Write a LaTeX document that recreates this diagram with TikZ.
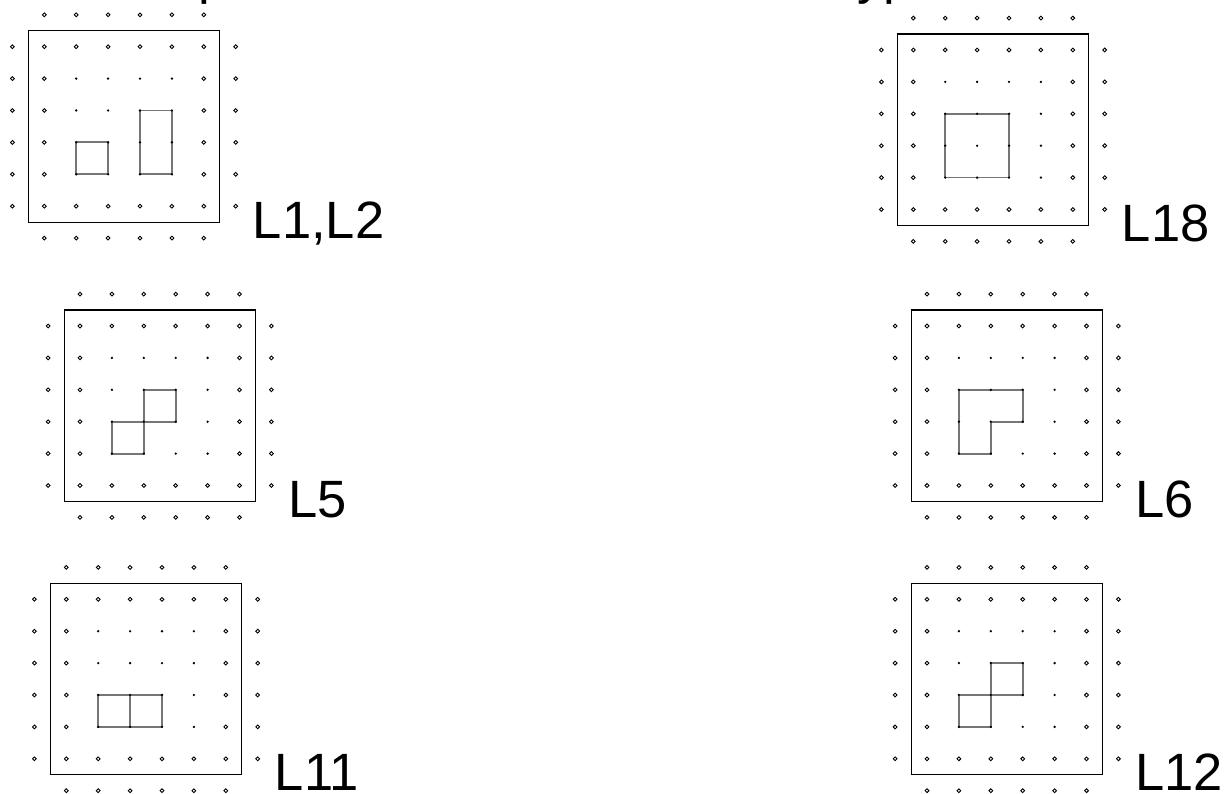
\documentclass[tikz,border=0pt]{standalone}
\usepackage{fontspec}
\setmainfont{Liberation Sans}
\usetikzlibrary{backgrounds}

\begin{document}
\begin{tikzpicture}[x=1pt, y=-1pt]

\definecolor{boardink}{HTML}{000000}
\definecolor{shapeink}{HTML}{767676}

\tikzset{
  openpeg/.style={
    circle, draw=boardink, fill=white, line width=0.9pt,
    minimum size=3.8pt, inner sep=0pt
  },
  innerpeg/.style={circle, fill=boardink, minimum size=2.6pt, inner sep=0pt},
  boardframe/.style={draw=boardink, line width=1.1pt},
  shapeedge/.style={draw=shapeink, line width=1.8pt, line join=miter},
  boardlabel/.style={
    anchor=base west, inner sep=0pt, font=\fontsize{52.5}{60}\selectfont
  }
}

\newcommand{\pegstep}{31.9}
% One board: #1 name, #2/#3 the top-left peg inside the frame, #4 label.
% Rim pegs are open rings, the 4x4 middle is solid dots, and one more row
% of loose rings sits outside the frame on every side.
\newcommand{\geoboard}[4]{%
  \begin{scope}[shift={(#2,#3)}]
    \draw[boardframe] (-0.5*\pegstep,-0.5*\pegstep)
      rectangle (5.5*\pegstep,5.5*\pegstep);
    \foreach \i in {0,...,5}{
      \foreach \j in {0,5}
        \node[openpeg] (#1-\i-\j) at (\i*\pegstep,\j*\pegstep) {};
    }
    \foreach \i in {0,5}{
      \foreach \j in {1,...,4}
        \node[openpeg] (#1-\i-\j) at (\i*\pegstep,\j*\pegstep) {};
    }
    \foreach \i in {1,...,4}{
      \foreach \j in {1,...,4}
        \node[innerpeg] (#1-\i-\j) at (\i*\pegstep,\j*\pegstep) {};
    }
    \foreach \k in {0,...,5}{
      \node[openpeg] (#1-\k-top)   at (\k*\pegstep,-\pegstep) {};
      \node[openpeg] (#1-\k-bot)   at (\k*\pegstep,6*\pegstep) {};
      \node[openpeg] (#1-left-\k)  at (-\pegstep,\k*\pegstep) {};
      \node[openpeg] (#1-right-\k) at (6*\pegstep,\k*\pegstep) {};
    }
    \node[boardlabel] (#1-label) at (6*\pegstep+17,6*\pegstep) {#4};
  \end{scope}}

\useasboundingbox (0,0) rectangle (1226,794);

% heading, cut off by the top edge
\node[boardlabel] (headp)     at (198,-6) {p};
\node[boardlabel] (headcomma) at (327,-6) {,};
\node[boardlabel] (headyp)    at (857,-6) {yp};
\node[boardlabel] (headcommb) at (941,-6) {,};

\geoboard{b1}{44.3}{46.7}{L1,L2}
\geoboard{b2}{913.3}{50}{L18}
\geoboard{b3}{80}{326}{L5}
\geoboard{b4}{927}{326}{L6}
\geoboard{b5}{66.3}{599.3}{L11}
\geoboard{b6}{927}{599.3}{L12}

% The shapes go under the pegs.
\begin{scope}[on background layer]
  % L1, L2: a unit square and a 1x2 rectangle
  \draw[shapeedge] (b1-1-3.center) -- (b1-2-3.center) -- (b1-2-4.center)
    -- (b1-1-4.center) -- cycle;
  \draw[shapeedge] (b1-3-2.center) -- (b1-4-2.center) -- (b1-4-4.center)
    -- (b1-3-4.center) -- cycle;
  % L18
  \draw[shapeedge] (b2-1-2.center) -- (b2-3-2.center) -- (b2-3-4.center)
    -- (b2-1-4.center) -- cycle;
  % L5: two squares touching at a corner
  \draw[shapeedge] (b3-1-3.center) -- (b3-2-3.center) -- (b3-2-4.center)
    -- (b3-1-4.center) -- cycle;
  \draw[shapeedge] (b3-2-2.center) -- (b3-3-2.center) -- (b3-3-3.center)
    -- (b3-2-3.center) -- cycle;
  % L6
  \draw[shapeedge] (b4-1-2.center) -- (b4-3-2.center) -- (b4-3-3.center)
    -- (b4-2-3.center) -- (b4-2-4.center) -- (b4-1-4.center) -- cycle;
  % L11: two squares sharing a side
  \draw[shapeedge] (b5-1-3.center) -- (b5-3-3.center) -- (b5-3-4.center)
    -- (b5-1-4.center) -- cycle;
  \draw[shapeedge] (b5-2-3.center) -- (b5-2-4.center);
  % L12
  \draw[shapeedge] (b6-1-3.center) -- (b6-2-3.center) -- (b6-2-4.center)
    -- (b6-1-4.center) -- cycle;
  \draw[shapeedge] (b6-2-2.center) -- (b6-3-2.center) -- (b6-3-3.center)
    -- (b6-2-3.center) -- cycle;
\end{scope}

\end{tikzpicture}
\end{document}
